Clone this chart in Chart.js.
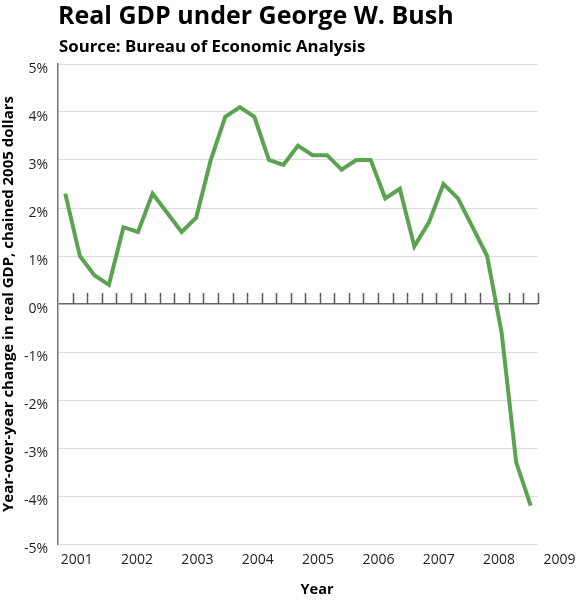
<!DOCTYPE html>
<html>
<head>
<meta charset="utf-8">
<script src="https://cdn.jsdelivr.net/npm/chart.js@4.4.0/dist/chart.umd.min.js"></script>
<style>
  html, body { margin: 0; padding: 0; background: #fff; }
  #wrap { position: relative; width: 577px; height: 600px; overflow: hidden; }
  #c { position: absolute; left: 0; top: 0; }
  #title { position: absolute; left: 58px; top: 2px; font: bold 25px/1 'Open Sans', sans-serif; color: #000; white-space: nowrap; }
  #sub { position: absolute; left: 59px; top: 38px; font: bold 16.8px/1 'Open Sans', sans-serif; color: #000; white-space: nowrap; }
  #xtitle { position: absolute; left: 0; width: 634px; text-align: center; top: 582px; font: bold 14.5px/1 'Open Sans', sans-serif; color: #000; white-space: nowrap; }
</style>
</head>
<body>
<div id="wrap">
  <canvas id="c" width="577" height="600" style="width:577px;height:600px"></canvas>
  <div id="title">Real GDP under George W. Bush</div>
  <div id="sub">Source: Bureau of Economic Analysis</div>
  <div id="xtitle">Year</div>
</div>
<script>
// ---- data ----
const quarters = [
  '2001 Q1','2001 Q2','2001 Q3','2001 Q4',
  '2002 Q1','2002 Q2','2002 Q3','2002 Q4',
  '2003 Q1','2003 Q2','2003 Q3','2003 Q4',
  '2004 Q1','2004 Q2','2004 Q3','2004 Q4',
  '2005 Q1','2005 Q2','2005 Q3','2005 Q4',
  '2006 Q1','2006 Q2','2006 Q3','2006 Q4',
  '2007 Q1','2007 Q2','2007 Q3','2007 Q4',
  '2008 Q1','2008 Q2','2008 Q3','2008 Q4',
  '2009 Q1'
];
const gdpGrowth = [
  2.3, 1.0, 0.6, 0.4,
  1.6, 1.5, 2.3, 1.9,
  1.5, 1.8, 3.0, 3.9,
  4.1, 3.9, 3.0, 2.9,
  3.3, 3.1, 3.1, 2.8,
  3.0, 3.0, 2.2, 2.4,
  1.2, 1.7, 2.5, 2.2,
  1.6, 1.0, -0.6, -3.3,
  -4.2
];
const yearLabels = [2001, 2002, 2003, 2004, 2005, 2006, 2007, 2008, 2009];
const yTickValues = [-5, -4, -3, -2, -1, 0, 1, 2, 3, 4, 5];
const yearAxisMin = 2000.69;
const yearAxisMax = 2008.645;

// ---- tick marks on the zero line, at the category boundaries ----
const zeroTicks = {
  id: 'zeroTicks',
  beforeDatasetsDraw(chart) {
    const xs = chart.scales.x, ys = chart.scales.y, ctx = chart.ctx;
    const y0 = ys.getPixelForValue(0);
    const half = (xs.getPixelForValue(1) - xs.getPixelForValue(0)) / 2;
    ctx.save();
    ctx.strokeStyle = '#5a5a5a';
    ctx.lineWidth = 1.5;
    ctx.beginPath();
    for (let i = 0; i < quarters.length; i++) {
      const px = Math.round(xs.getPixelForValue(i) + half) + 0.5;
      ctx.moveTo(px, y0);
      ctx.lineTo(px, y0 - 11);
    }
    ctx.stroke();
    ctx.restore();
  }
};

Chart.defaults.font.family = "'Open Sans', sans-serif";
Chart.defaults.color = '#231f20';

new Chart(document.getElementById('c'), {
  type: 'line',
  data: {
    labels: quarters,
    datasets: [{
      data: gdpGrowth,
      borderColor: '#5ba350',
      borderWidth: 4,
      pointRadius: 0,
      tension: 0,
      fill: false
    }]
  },
  options: {
    responsive: false,
    animation: false,
    layout: { padding: { top: 64, right: 39, left: 0, bottom: 0 } },
    plugins: { legend: { display: false }, tooltip: { enabled: false } },
    scales: {
      x: { type: 'category', display: false, offset: true },
      years: {
        type: 'linear',
        position: 'bottom',
        min: yearAxisMin,
        max: yearAxisMax,
        afterBuildTicks: s => { s.ticks = yearLabels.map(v => ({ value: v })); },
        ticks: { font: { size: 14 }, padding: 0, autoSkip: false, maxRotation: 0, callback: v => String(v) },
        grid: { display: false },
        border: { display: false },
        afterFit: s => { s.height = 56; s.paddingLeft = 0; s.paddingRight = 0; }
      },
      y: {
        type: 'linear',
        min: -5,
        max: 5,
        afterBuildTicks: s => { s.ticks = yTickValues.map(v => ({ value: v })); },
        ticks: { font: { size: 14 }, padding: 10, labelOffset: 5, callback: v => v + '%' },
        grid: {
          drawTicks: false,
          color: c => c.tick && c.tick.value === 0 ? '#6a6a6a' : '#dddddd',
          lineWidth: c => c.tick && c.tick.value === 0 ? 1.5 : 1
        },
        border: { display: true, color: '#777', width: 1.5 },
        title: { display: true, text: 'Year-over-year change in real GDP, chained 2005 dollars', font: { size: 15, weight: 'bold' }, color: '#000', padding: { top: 0, bottom: 0 } },
        afterFit: s => { s.width = 58; s.paddingTop = 0; s.paddingBottom = 0; }
      }
    }
  },
  plugins: [zeroTicks]
});
</script>
</body>
</html>
